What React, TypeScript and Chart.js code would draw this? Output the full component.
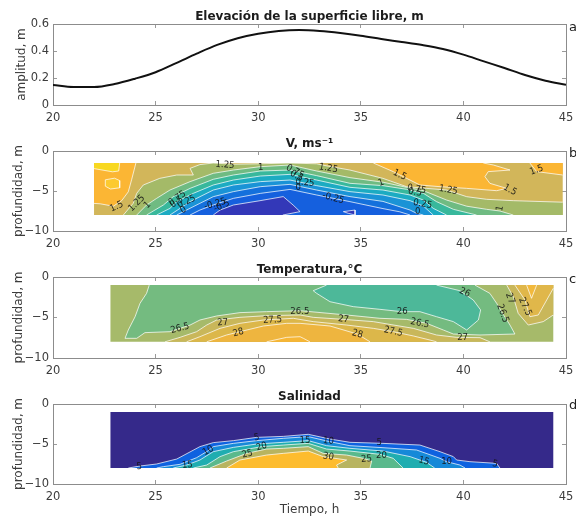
import React, { useEffect, useRef } from "react";
import { Chart, registerables } from "chart.js";

Chart.register(...registerables);

type P = [number, number];
const FONT = "'DejaVu Sans', sans-serif";
const INK = "#3c3c3c";
const EDGE = "#8c8c8c";
const CONTOUR = "rgba(255,255,255,0.72)";

const hours = [20,21,22,23,24,25,26,27,28,29,30,31,32,33,34,35,36,37,38,39,40,41,42,43,44,45];
const elevation = [0.148,0.133,0.133,0.155,0.195,0.243,0.31,0.38,0.445,0.495,0.528,0.548,0.555,0.548,0.533,0.513,0.489,0.467,0.444,0.415,0.373,0.323,0.274,0.222,0.18,0.15];

const xTicks = [20, 25, 30, 35, 40, 45];

// V panel
const vDomain: P[] = [[22,-1.5],[44.84,-1.5],[44.84,-8],[22,-8]];
const v150Left: P[] = [[24.04,-1.5],[23.83,-3.6],[23.67,-5.1],[23.35,-6.2],[22.94,-6.9],[22.3,-6.6],[22,-6.55]];
const v150Right: P[] = [[35.61,-1.5],[36.58,-2.58],[37.88,-4.25],[38.86,-4.46],[40.16,-4.67],[41.62,-4.96],[42.11,-4.67],[41.29,-4.04],[41.05,-3.21],[41.21,-2.58],[42.27,-2.38],[41.46,-1.75],[40.97,-1.5]];
const v150Corner: P[] = [[43.24,-1.5],[43.57,-2.58],[44.84,-3]];
const v175Top: P[] = [[22,-2.2],[22.9,-2.6],[23.2,-2.5],[23.25,-1.5]];
const v175Spot: P[] = [[22.55,-3.6],[23,-3.4],[23.25,-3.7],[23.25,-4.6],[22.8,-4.75],[22.55,-4.4]];
const v125: P[] = [[23.43,-8],[23.91,-6.54],[24.08,-5.29],[24.4,-4.25],[25.2,-3.42],[26.03,-3],[26.84,-3],[26.68,-2.17],[27.16,-1.7],[27.81,-1.5],[28.79,-1.65],[30.09,-1.6],[31.5,-1.5],[32.85,-1.6],[33.42,-1.9],[34.47,-2.38],[36.08,-3.42],[37.23,-4.46],[38.2,-4.67],[39.18,-4.88],[40.16,-5.71],[41.13,-6.04],[42.43,-6.21],[44.84,-6.4]];
const v100: P[] = [[24.08,-8],[24.56,-6.75],[25.05,-5.92],[25.7,-4.88],[26.68,-3.83],[27.81,-2.79],[28.79,-2.38],[30.1,-1.96],[31.55,-1.75],[32.85,-2.5],[34.47,-3.33],[36.08,-3.9],[37.23,-4.54],[38.05,-4.96],[39.18,-6.13],[40.16,-6.9],[41.13,-7.29],[41.78,-7.5],[42.43,-8]];
const v075: P[] = [[24.56,-8],[25.38,-6.75],[25.86,-5.71],[26.68,-4.67],[27.81,-3.54],[28.79,-3],[30.1,-2.5],[31.55,-2.38],[32.85,-3.08],[34.47,-4.04],[36.08,-4.33],[37.23,-4.79],[38.05,-5.29],[38.69,-6.33],[39.51,-7.29],[40.64,-8]];
const v050: P[] = [[25.05,-8],[25.7,-7.17],[26.03,-6.33],[26.84,-5.29],[27.81,-4.25],[28.79,-3.63],[30.1,-3.13],[31.55,-2.92],[32.85,-3.63],[34.47,-4.54],[36.08,-4.88],[37.4,-5.5],[38.05,-6.13],[38.53,-7.17],[39.18,-8]];
const v025: P[] = [[25.7,-8],[26.19,-7.17],[26.68,-6.33],[27.81,-4.88],[28.79,-4.25],[30.1,-3.83],[31.55,-3.63],[32.85,-4.33],[34.47,-5.08],[36.08,-5.5],[37.4,-6.21],[38.05,-6.88],[38.53,-8]];
const v000: P[] = [[26.03,-8],[26.51,-7.38],[27.16,-6.54],[27.81,-5.71],[28.79,-5.08],[30.1,-4.46],[31.55,-4.17],[32.85,-4.88],[34.47,-5.7],[36.08,-6.3],[37.4,-7.38],[37.72,-7.79],[38.05,-8]];
const vNeg025: P[] = [[26.68,-8],[27.16,-7.38],[27.81,-6.75],[28.79,-5.92],[30.1,-5.3],[31.55,-4.8],[32.85,-5.5],[34.47,-6.33],[36.08,-7.2],[36.9,-7.6],[37.4,-8]];
const vNeg050: P[] = [[27.81,-8],[28.14,-7.38],[28.79,-6.75],[30.09,-6.21],[31.22,-5.7],[31.7,-6.75],[32.04,-7.58],[31.2,-8]];
const vNeg050Spot: P[] = [[34.15,-7.58],[34.72,-7.38],[34.72,-8],[34.39,-7.79]];

// Temperature panel
const tDomain: P[] = [[22.8,-1],[44.38,-1],[44.38,-8],[22.8,-8]];
const t265: P[] = [[24.69,-1],[24.56,-2.02],[24.24,-3.25],[24,-4.9],[23.67,-6.54],[23.51,-7.57],[24.08,-7.57],[24.48,-6.87],[25.7,-6.75],[26.68,-5.93],[27.16,-5.31],[27.98,-4.81],[29.11,-4.4],[30.41,-4.28],[32.04,-4.16],[34.31,-4.69],[35.93,-5.1],[37.23,-5.23],[38.21,-5.72],[39.02,-6.54],[39.51,-7.04],[40.81,-7.16],[42.51,-7.04],[42.27,-5.93],[41.91,-4.49],[41.62,-3.25],[41.29,-2.02],[40.56,-1]];
const t260: P[] = [[38.69,-1],[39.83,-1.69],[40.48,-2.84],[40.84,-4.07],[40.73,-5.31],[40.16,-6.54],[39.51,-5.51],[38.69,-4.9],[37.88,-4.28],[36.99,-4.28],[35.93,-3.99],[34.63,-3.66],[33.5,-3.05],[32.85,-2.02],[32.68,-1.69],[33.33,-1]];
const t270: P[] = [[25.46,-8],[26.19,-7.45],[27,-6.75],[27.49,-5.93],[27.98,-5.31],[29.11,-4.98],[30.41,-4.77],[32.04,-4.69],[32.68,-4.98],[34.15,-5.23],[35.61,-5.51],[37.56,-6.34],[38.69,-7.16],[39.67,-7.45],[40.81,-7.49],[41.29,-8]];
const t275: P[] = [[26.51,-8],[27.16,-7.37],[28.14,-6.34],[29.11,-5.72],[30.25,-5.31],[31.71,-5.1],[32.68,-5.51],[34.31,-5.93],[35.61,-6.34],[36.58,-6.75],[37.56,-7.28],[38.37,-7.78],[38.69,-8]];
const t280: P[] = [[27.49,-8],[28.46,-7.16],[29.11,-6.75],[30.25,-6.05],[31.39,-5.72],[32.04,-5.72],[33.5,-6.05],[34.83,-7.04],[35.45,-8]];
const t285: P[] = [[30.41,-8],[31.39,-7.45],[32.04,-7.37],[32.2,-7.57],[32.52,-8]];
const t270Right: P[] = [[42.11,-1],[42.43,-2.43],[42.67,-4.49],[43.16,-5.93],[43.89,-5.51],[44.38,-4.69]];
const t275Right: P[] = [[42.51,-1],[43,-2.84],[43.24,-4.9],[43.65,-4.69],[44.06,-2.84],[44.38,-1.4]];
const t280Right: P[] = [[43.08,-1],[43.32,-2.63],[43.57,-1]];

// Salinity panel
const sDomain: P[] = [[22.8,-1],[44.38,-1],[44.38,-8],[22.8,-8]];
const s05: P[] = [[23.67,-8],[24.24,-7.75],[25.05,-7.5],[26.03,-6.88],[27.16,-5.33],[27.81,-4.83],[28.79,-4.58],[29.93,-4.17],[31.22,-4.05],[32.44,-3.79],[33.5,-4.38],[34.47,-4.79],[36.08,-4.92],[37.88,-5.13],[38.86,-5.96],[39.51,-6.58],[39.67,-7],[40.32,-7.21],[41.62,-7.42],[41.78,-8]];
const s10: P[] = [[25.05,-8],[25.38,-7.83],[26.19,-7.54],[27,-6.71],[27.57,-5.83],[27.81,-5.33],[28.79,-4.92],[29.93,-4.58],[31.22,-4.29],[32.44,-4.08],[33.5,-4.71],[34.47,-5.21],[36.08,-5.46],[37.72,-5.75],[38.86,-6.79],[39.18,-7.21],[39.83,-7.63],[40.08,-8]];
const s15: P[] = [[25.86,-8],[26.51,-7.63],[27.16,-7],[27.81,-5.96],[28.79,-5.42],[29.93,-5],[31.22,-4.79],[32.44,-4.58],[33.33,-5.21],[34.47,-5.54],[36.08,-5.88],[37.4,-6.58],[38.2,-7.29],[38.6,-8]];
const s20: P[] = [[26.84,-8],[27.49,-7.63],[28.14,-6.58],[28.79,-5.96],[30.17,-5.33],[31.22,-5.13],[32.44,-4.92],[33.33,-5.63],[34.47,-5.88],[35.93,-6.29],[36.58,-6.79],[37.06,-8]];
const s25: P[] = [[27.65,-8],[28.46,-7.13],[29.44,-6.17],[30.41,-5.63],[31.22,-5.54],[32.44,-5.33],[33.17,-6.17],[34.31,-6.38],[35.12,-6.79],[35.53,-7.13],[35.45,-8]];
const s30: P[] = [[28.46,-8],[29.11,-7],[30.41,-6.38],[31.22,-6.17],[32.44,-5.88],[33.17,-6.58],[34.31,-7],[33.82,-7.63],[33.9,-8]];

type Label = [number, number, string, number];
const vLabels: Label[] = [
  [28.38,-1.75,"1.25",5],[30.12,-2.08,"1",0],[26.06,-5.92,"0.75",-35],[26.03,-6.4,"0.5",-35],[26.51,-6.33,"0.25",-25],[26.35,-7.38,"0",-30],
  [23.1,-6.96,"1.5",-25],[24.08,-6.54,"1.25",-45],[24.6,-6.75,"1",-45],[27.9,-6.63,"-0.25",-15],[28.22,-6.88,"-0.5",-25],
  [31.79,-2.58,"0.75",30],[31.87,-3.13,"0.5",30],[32.28,-3.96,"0.25",5],[31.95,-4.54,"0",0],[33.42,-2.17,"1.25",10],[36,-3.96,"1",-20],[36.9,-3,"1.5",25],
  [33.65,-5.9,"-0.25",15],[37.72,-4.79,"0.75",10],[37.64,-5.17,"0.5",10],[38.01,-6.63,"0.25",10],[37.77,-7.58,"0",0],[39.26,-4.88,"1.25",10],[42.27,-4.88,"1.5",30],[41.78,-7.17,"1",-80],[43.57,-2.38,"1.5",-20],
];
const tLabels: Label[] = [
  [26.19,-6.34,"26.5",-15],[28.27,-5.64,"27",-5],[30.7,-5.31,"27.5",-3],[29.03,-6.87,"28",-15],[32.03,-4.28,"26.5",0],[37.02,-4.28,"26",0],[34.15,-5.23,"27",8],
  [37.88,-5.72,"26.5",12],[36.58,-6.75,"27.5",12],[34.83,-7.04,"28",15],[39.96,-7.45,"27",0],[40.07,-1.93,"26",25],[41.91,-4.49,"26.5",70],[42.27,-2.63,"27",70],[43,-3.66,"27.5",65],
];
const sLabels: Label[] = [
  [24.2,-7.83,"5",-5],[26.55,-7.63,"15",-5],[27.57,-5.83,"10",-30],[29.93,-4.21,"5",-10],[30.17,-5.33,"20",-15],[29.47,-6.25,"25",-15],
  [32.28,-4.58,"15",0],[33.42,-4.63,"10",5],[33.42,-6.58,"30",10],[35.9,-4.79,"5",0],[35.28,-6.88,"25",-5],[36.01,-6.46,"20",0],[38.08,-7.13,"15",15],[39.18,-7.21,"10",0],[41.54,-7.5,"5",10],
];

const toPoints = (a: P[]) => a.map(([x, y]) => ({ x, y }));
const area = (a: P[], color: string) => ({ data: toPoints(a), showLine: true, fill: "shape", backgroundColor: color, borderWidth: 0, pointRadius: 0 });
const line = (a: P[]) => ({ data: toPoints(a), showLine: true, fill: false, borderColor: CONTOUR, borderWidth: 1, pointRadius: 0 });
// a band below a contour, closed along the floor of the sampled window
const below = (a: P[], floor: number): P[] => [...a, [a[a.length - 1][0], floor], [a[0][0], floor]];
// a band above a contour, closed along the top of the sampled window
const above = (a: P[], top: number): P[] => [...a, [a[a.length - 1][0], top], [a[0][0], top]];

const vBands = [
  area(vDomain, "#d2b65a"),
  area(above(v150Left, -1.5), "#fbb634"), line(v150Left),
  area(above(v175Top, -1.5), "#f8d820"), line(v175Top),
  area(v175Spot, "#fcca30"), line([...v175Spot, v175Spot[0]]),
  area(v150Right, "#fbb634"), line(v150Right),
  area(above(v150Corner, -1.5), "#fbb634"), line(v150Corner),
  area(below(v125, -8), "#a4ba68"), line(v125),
  area(below(v100, -8), "#6fbb82"), line(v100),
  area(below(v075, -8), "#38b89c"), line(v075),
  area(below(v050, -8), "#1cabc2"), line(v050),
  area(below(v025, -8), "#1a93d6"), line(v025),
  area(below(v000, -8), "#1470dc"), line(v000),
  area(below(vNeg025, -8), "#1560de"), line(vNeg025),
  area(below(vNeg050, -8), "#3338b8"), line(vNeg050),
  area(vNeg050Spot, "#3338b8"), line([...vNeg050Spot, vNeg050Spot[0]]),
];
const tBands = [
  area(tDomain, "#a6ba6a"),
  area(t265, "#74bb80"), line(t265),
  area(t260, "#4db899"), line(t260),
  area(below(t270, -8), "#c9b75a"), line(t270),
  area(below(t275, -8), "#dcb74a"), line(t275),
  area(below(t280, -8), "#eeb53f"), line(t280),
  area(below(t285, -8), "#f6b636"), line(t285),
  area(above(t270Right, -1), "#c9b75a"), line(t270Right),
  area(above(t275Right, -1), "#e0b74a"), line(t275Right),
  area(t280Right, "#f2b93c"), line(t280Right),
];
const sBands = [
  area(sDomain, "#35298a"),
  area(below(s05, -8), "#0e62e0"), line(s05),
  area(below(s10, -8), "#1689d8"), line(s10),
  area(below(s15, -8), "#1fadb0"), line(s15),
  area(below(s20, -8), "#5ab98c"), line(s20),
  area(below(s25, -8), "#b8b460"), line(s25),
  area(below(s30, -8), "#fdbc2e"), line(s30),
];

const labelPlugin = {
  id: "contourLabels",
  afterDatasetsDraw(chart: any) {
    const labels: Label[] = chart.options.plugins.contourLabels?.items || [];
    const { ctx, scales } = chart;
    ctx.save();
    ctx.font = `9.5px 'DejaVu Sans Condensed', 'DejaVu Sans', sans-serif`;
    ctx.fillStyle = "rgba(20,20,20,0.9)";
    ctx.textAlign = "center";
    ctx.textBaseline = "middle";
    for (const [x, y, t, r] of labels) {
      ctx.save();
      ctx.translate(scales.x.getPixelForValue(x), scales.y.getPixelForValue(y));
      ctx.rotate((r * Math.PI) / 180);
      ctx.fillText(t, 0, 0);
      ctx.restore();
    }
    ctx.restore();
  },
};

const fix = (w: number | null, h: number | null) => (s: any) => {
  if (w !== null) s.width = w;
  if (h !== null) s.height = h;
  s.paddingLeft = s.paddingRight = s.paddingTop = s.paddingBottom = 0;
};

type PanelProps = {
  top: number; height: number; padTop: number; axisH: number; title: string; yTitle: string; yTitlePad: number;
  yMin: number; yMax: number; yStep: number; datasets: any[]; labels: Label[]; xTitle?: string;
};

function Panel(p: PanelProps) {
  const ref = useRef<HTMLCanvasElement>(null);
  useEffect(() => {
    const n = p.datasets.length;
    const grid = { drawOnChartArea: false, tickLength: -4, tickColor: "#9a9a9a", tickWidth: 1 };
    const border = { color: EDGE, width: 1 };
    const font = { family: FONT, size: 11.5 };
    const chart = new Chart(ref.current!, {
      type: "scatter",
      data: { datasets: p.datasets.map((d, i) => ({ ...d, order: n - i })) },
      plugins: [labelPlugin],
      options: {
        responsive: false,
        animation: false,
        events: [],
        layout: { padding: { left: 3, right: 10, top: p.padTop, bottom: 0 } },
        plugins: {
          legend: { display: false },
          tooltip: { enabled: false },
          title: {
            display: true, text: p.title, color: "#1c1c1c", fullSize: false,
            font: { family: FONT, size: 12, weight: "bold", lineHeight: "14px" }, padding: { top: 0, bottom: 0 },
          },
          contourLabels: { items: p.labels },
        },
        scales: {
          x: {
            type: "linear", position: "bottom", min: 20, max: 45, afterFit: fix(null, p.axisH),
            afterBuildTicks: (s: any) => { s.ticks = xTicks.map((value) => ({ value })); },
            grid, border,
            ticks: { autoSkip: false, maxRotation: 0, color: INK, font, padding: 10, callback: (v: any) => String(v) },
            title: { display: !!p.xTitle, text: p.xTitle, color: INK, font: { family: FONT, size: 12, lineHeight: "14px" }, padding: { top: 0, bottom: 1 } },
          },
          x2: {
            type: "linear", position: "top", min: 20, max: 45, afterFit: fix(null, 0),
            afterBuildTicks: (s: any) => { s.ticks = xTicks.map((value) => ({ value })); },
            grid, border, ticks: { display: false },
          },
          y: {
            type: "linear", position: "left", min: p.yMin, max: p.yMax, afterFit: fix(50, null),
            grid, border,
            ticks: { stepSize: p.yStep, color: INK, font, padding: 8, callback: (v: any) => (v < 0 ? "\u2212" + Math.abs(v) : String(Math.round(v * 10) / 10)) },
            title: { display: true, text: p.yTitle, color: INK, font: { family: FONT, size: 12, lineHeight: "14px" }, padding: { top: p.yTitlePad, bottom: 0 } },
          },
          y2: {
            type: "linear", position: "right", min: p.yMin, max: p.yMax, afterFit: fix(0, null),
            grid, border, ticks: { display: false, stepSize: p.yStep },
          },
        },
      },
    } as any);
    return () => chart.destroy();
  }, []);
  return <canvas ref={ref} width={576} height={p.height} style={{ position: "absolute", left: 0, top: p.top, display: "block" }} />;
}

const lineData = [{
  data: hours.map((x, i) => ({ x, y: elevation[i] })), showLine: true, fill: false, borderColor: "#111", borderWidth: 2, pointRadius: 0, cubicInterpolationMode: "monotone",
}];

const letters: [string, number][] = [["a", 19], ["b", 145], ["c", 271], ["d", 397]];

export default function App() {
  return (
    <div style={{ position: "absolute", left: 0, top: 0, width: 576, height: 518, overflow: "hidden", background: "#fff", filter: "blur(0.4px)" }}>
      <Panel top={0} height={130} padTop={10} axisH={25} title="Elevación de la superficie libre, m" yTitle="amplitud, m" yTitlePad={12} yMin={0} yMax={0.6} yStep={0.2} datasets={lineData} labels={[]} />
      <Panel top={130} height={128} padTop={7} axisH={27} title="V, ms⁻¹" yTitle="profundidad, m" yTitlePad={9} yMin={-10} yMax={0} yStep={5} datasets={vBands} labels={vLabels} />
      <Panel top={258} height={127} padTop={5} axisH={27} title="Temperatura,°C" yTitle="profundidad, m" yTitlePad={9} yMin={-10} yMax={0} yStep={5} datasets={tBands} labels={tLabels} />
      <Panel top={385} height={133} padTop={5} axisH={34} title="Salinidad" yTitle="profundidad, m" yTitlePad={9} yMin={-10} yMax={0} yStep={5} datasets={sBands} labels={sLabels} xTitle="Tiempo, h" />
      {letters.map(([t, y]) => (
        <span key={t} style={{ position: "absolute", left: 569, top: y, font: `13px ${FONT}`, color: "#222" }}>{t}</span>
      ))}
    </div>
  );
}
